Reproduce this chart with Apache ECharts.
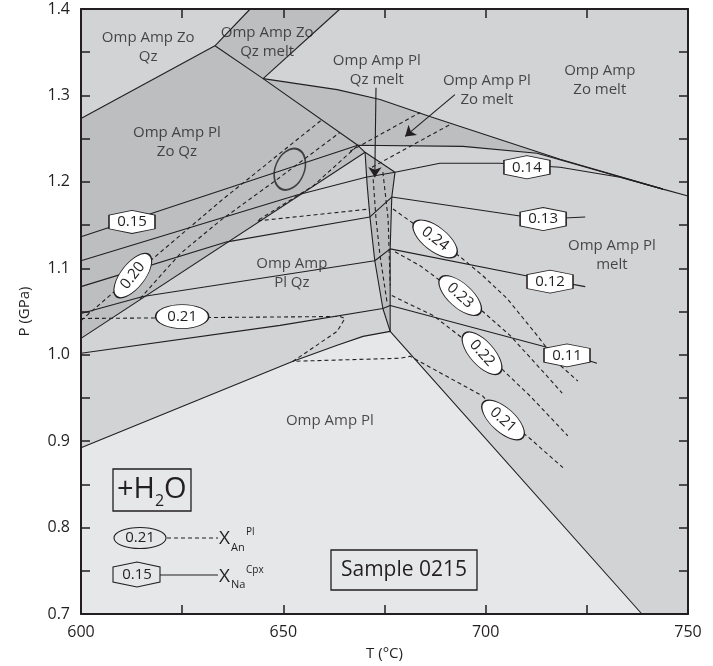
<!DOCTYPE html>
<html><head><meta charset="utf-8">
<script src="https://cdn.jsdelivr.net/npm/echarts@6/dist/echarts.min.js"></script>
<style>html,body{margin:0;padding:0;background:#fff}#c{width:713px;height:666px}</style>
</head><body><div id="c"></div>
<script>
// ---------- DATA (T in °C, P in GPa) ----------
// Field polygons
const fieldZoQzMelt = [[633.1,1.3574],[641.8,1.4],[664.0,1.4],[645.0,1.3194]];
const fieldPlZoQz = [[600,1.2734],[633.1,1.3574],[645.0,1.3194],[668.4,1.2423],[670.2,1.2342],[600,1.0189]];
const fieldPlZoMelt = [[645.0,1.3194],[663.3,1.3067],[673.9,1.2952],[686.2,1.2757],[718.4,1.2262],[743.8,1.1916],[712.7,1.2331],[694.4,1.2411],[668.4,1.2423]];
const fieldPlQzMelt = [[670.2,1.2342],[677.6,1.2112],[676.8,1.1824],[676.4,1.1225],[676.4,1.0592],[676.4,1.0270],[674.6,1.0535],[672.6,1.1087],[671.4,1.1594],[670.7,1.1974]];
const fieldPl = [[600,0.8923],[652.4,0.9924],[663.3,1.0109],[669.7,1.0212],[676.4,1.0270],[738.6,0.7],[600,0.7]];

// Field boundaries
const bdyZoQz = [[600,1.2734],[633.1,1.3574]];
const bdyMeltL = [[633.1,1.3574],[641.8,1.4]];
const bdyMeltR = [[645.0,1.3194],[664.0,1.4]];
const bdyZoOut = [[633.1,1.3574],[645.0,1.3194],[668.4,1.2423],[670.2,1.2342],[677.6,1.2112]];
const bdyMeltTop = [[645.0,1.3194],[663.3,1.3067],[673.9,1.2952],[686.2,1.2757],[718.4,1.2262],[743.8,1.1916],[750,1.1836]];
const bdyDiag = [[600,1.0189],[670.2,1.2342]];
const bdyBandL = [[670.2,1.2342],[670.7,1.1974],[671.4,1.1594],[672.6,1.1087],[674.6,1.0535],[676.4,1.0270]];
const bdyBandR = [[677.6,1.2112],[676.8,1.1824],[676.4,1.1225],[676.4,1.0592],[676.4,1.0270]];
const bdyPlOut = [[600,0.8923],[652.4,0.9924],[663.3,1.0109],[669.7,1.0212],[676.4,1.0270],[738.6,0.7]];

// X_Na (Cpx) isopleths - solid
const xna015 = [[600,1.1364],[668.4,1.2423],[694.4,1.2411],[712.7,1.2331],[743.8,1.1916]];
const xna014 = [[600,1.1087],[653.4,1.1847],[670.4,1.2054],[677.6,1.2112],[688.7,1.2215],[703.5,1.2215],[718.4,1.2169],[733.2,1.2054],[743.8,1.1916]];
const xna013 = [[600,1.0788],[636.1,1.1306],[671.4,1.1594],[676.8,1.1824],[708.5,1.1605],[714.2,1.1570],[724.6,1.1594]];
const xna012 = [[600,1.0477],[615.3,1.0673],[672.6,1.1087],[676.4,1.1225],[711.2,1.0903],[724.6,1.0788]];
const xna011 = [[600,1.0017],[649.2,1.0339],[674.6,1.0535],[676.4,1.0569],[714.2,1.0097],[727.5,0.9901]];

// X_An (Pl) isopleths - dashed
const xan021 = [[600,1.0419],[664.0,1.0442],[665.2,1.0419],[663.3,1.0270],[652.4,0.9924],[678.8,0.9959],[681.3,0.9982],[699.3,0.9521],[704.3,0.9245],[710.2,0.9061],[719.1,0.8693]];
const xan020 = [[600,1.0396],[612.8,1.0915],[635.1,1.1801],[659.3,1.2710]];
const xanDarkB = [[614.6,1.0650],[624.5,1.1168],[634.3,1.1548],[649.2,1.2054],[664.0,1.2572]];
const xanUpper = [[668.2,1.2411],[657.3,1.1951],[643.5,1.1548],[671.4,1.1686]];
const xanMeltA = [[666.5,1.2354],[683.8,1.2803]];
const xanMeltB = [[671.9,1.2169],[691.7,1.2676]];
const xanBandA = [[672.2,1.2031],[672.9,1.1571],[673.9,1.1145],[675.6,1.0615]];
const xanBandB = [[674.6,1.2112],[675.9,1.1571],[676.4,1.0800]];
const xan024 = [[677.1,1.1686],[687.5,1.1340],[693.7,1.1133],[699.3,1.0914],[705.3,1.0650],[712.7,1.0224],[718.4,0.9878],[722.8,0.9694]];
const xan023 = [[677.6,1.1191],[683.8,1.1030],[693.7,1.0684],[699.3,1.0500],[706.0,1.0224],[713.4,0.9844],[718.9,0.9556]];
const xan022 = [[676.8,1.0684],[687.0,1.0454],[699.1,1.0017],[704.3,0.9821],[711.0,0.9521],[720.3,0.9061]];

// Isopleth labels [text, T, P]
const xnaLabels = [['0.15',612.6,1.1536],['0.14',710.2,1.2169],['0.13',714.2,1.1570],['0.12',715.9,1.0846],['0.11',720.1,0.9993]];
const xanLabels = [['0.20',612.8,1.0915],['0.21',625.0,1.0442],['0.24',687.5,1.1340],['0.23',693.7,1.0684],['0.22',699.1,1.0017],['0.21',704.3,0.9245]];

// Field names and their positions
const fieldNames = ['Omp Amp Zo\nQz','Omp Amp Zo\nQz melt','Omp Amp Pl\nQz melt','Omp Amp Pl\nZo melt','Omp Amp\nZo melt','Omp Amp Pl\nZo Qz','Omp Amp\nPl Qz','Omp Amp Pl\nmelt','Omp Amp Pl'];
const fieldT = [616.6,646.0,673.1,700.3,728.2,623.7,652.1,731.2,661.5];
const fieldP = [1.3563,1.3620,1.3286,1.3056,1.3171,1.2457,1.0937,1.1156,0.9234];

// Sample estimate ellipse centre
const sampleEllipse = [[651.6,1.2146]];

// Arrows [from, to]
const arrows = [[[672.9,1.3090],[672.6,1.2054]],[[692.4,1.3010],[680.1,1.2526]]];

// Axis ticks
const xMin = 600, xMax = 750, xStep = 25;
const yMin = 0.7, yMax = 1.4, yStep = 0.05;

// ---------- STYLE ----------
const INK = '#231f20';
const FONT = 'Open Sans';
const C_LIGHT = '#e6e7e8', C_MED = '#d1d3d4', C_DARK = '#bcbec0';
const ELLIPSE = 'path://M0,-1C0.5523,-1 1,-0.5523 1,0C1,0.5523 0.5523,1 0,1C-0.5523,1 -1,0.5523 -1,0C-1,-0.5523 -0.5523,-1 0,-1Z';
const HEX = 'path://M0,5L24,0L48,5L48,20L24,25L0,20Z';
const xanAngles = [52, 0, -38, -42, -48, -42];

function poly(verts, fill) {
  return {type:'custom', coordinateSystem:'cartesian2d', silent:true, animation:false, z:1, clip:true,
    data:[verts[0]],
    renderItem:function(params, api){
      return {type:'polygon', shape:{points: verts.map(function(v){return api.coord(v);})}, style:{fill:fill}};
    }};
}
function line(verts, dashed, w) {
  return {type:'line', data:verts, symbol:'none', silent:true, animation:false, z:3,
    lineStyle:{color:INK, width:w||1.1, type: dashed ? [4,3] : 'solid'}};
}

const series = [
  poly(fieldPl, C_LIGHT),
  poly(fieldPlZoQz, C_DARK),
  poly(fieldZoQzMelt, C_DARK),
  poly(fieldPlZoMelt, C_DARK),
  poly(fieldPlQzMelt, C_DARK),
];
[bdyZoQz,bdyMeltL,bdyMeltR,bdyZoOut,bdyMeltTop,bdyDiag,bdyBandL,bdyBandR,bdyPlOut,
 xna015,xna014,xna013,xna012,xna011].forEach(function(v){ series.push(line(v,false)); });
[xan021,xan020,xanDarkB,xanUpper,xanMeltA,xanMeltB,xanBandA,xanBandB,xan024,xan023,xan022]
  .forEach(function(v){ series.push(line(v,true)); });

// arrows
series.push({type:'line', data:[], silent:true, animation:false, z:4,
  markLine:{silent:true, animation:false, symbol:['none','arrow'], symbolSize:10,
    lineStyle:{color:INK, width:1.1, type:'solid'}, label:{show:false}, emphasis:{disabled:true},
    data: arrows.map(function(a){ return [{coord:a[0]},{coord:a[1]}]; })}});

// sample ellipse
series.push({type:'scatter', data:sampleEllipse, silent:true, animation:false, z:5,
  symbol:ELLIPSE, symbolSize:[29,43], symbolRotate:-22,
  itemStyle:{color:'rgba(0,0,0,0)', borderColor:INK, borderWidth:1.8}});

// X_Na labels
series.push({type:'scatter', silent:true, animation:false, z:6,
  data: xnaLabels.map(function(l){ return {value:[l[1],l[2]], name:l[0]}; }),
  symbol:HEX, symbolSize:[46,23],
  itemStyle:{color:'#fff', borderColor:INK, borderWidth:1.1, opacity:1},
  label:{show:true, position:'inside', formatter:'{b}', color:INK, fontSize:15, fontFamily:FONT}});

// X_An labels
series.push({type:'scatter', silent:true, animation:false, z:6,
  data: xanLabels.map(function(l,i){ return {value:[l[1],l[2]], name:l[0], symbolRotate:xanAngles[i], label:{rotate:xanAngles[i]}}; }),
  symbol:ELLIPSE, symbolSize:[53,24],
  itemStyle:{color:'#fff', borderColor:INK, borderWidth:1.1, opacity:1},
  label:{show:true, position:'inside', formatter:'{b}', color:INK, fontSize:15, fontFamily:FONT}});

// field names
series.push({type:'scatter', silent:true, animation:false, z:6,
  data: fieldNames.map(function(n,i){ return {value:[fieldT[i],fieldP[i]], name:n}; }),
  symbolSize:1, itemStyle:{color:'rgba(0,0,0,0)'},
  label:{show:true, position:'inside', formatter:'{b}', color:INK, fontSize:15, lineHeight:19, fontFamily:FONT, align:'center'}});

const axisCommon = {
  axisLine:{show:true, onZero:false, lineStyle:{color:INK, width:2}},
  axisTick:{show:true, inside:true, length:9, lineStyle:{color:INK, width:1.5}},
  splitLine:{show:false}, z:10
};

const option = {
  animation:false,
  backgroundColor:'#ffffff',
  grid:{left:81, top:9, right:25, bottom:49, show:true, backgroundColor:C_MED, borderWidth:0},
  xAxis:[
    Object.assign({type:'value', min:xMin, max:xMax, interval:xStep, position:'bottom',
      name:'T (°C)', nameLocation:'middle', nameGap:32,
      nameTextStyle:{color:INK, fontSize:15, fontFamily:FONT},
      axisLabel:{color:INK, fontSize:16, fontFamily:FONT, margin:10,
        formatter:function(v){ return (Math.round(v) % 50 === 0) ? String(Math.round(v)) : ''; }}}, axisCommon),
    Object.assign({type:'value', min:xMin, max:xMax, interval:xStep, position:'top', axisLabel:{show:false}}, axisCommon)
  ],
  yAxis:[
    Object.assign({type:'value', min:yMin, max:yMax, interval:yStep, position:'left',
      name:'P (GPa)', nameLocation:'middle', nameGap:49,
      nameTextStyle:{color:INK, fontSize:15, fontFamily:FONT},
      axisLabel:{color:INK, fontSize:16, fontFamily:FONT, margin:11,
        formatter:function(v){ const t = Math.round(v*100); return (t % 10 === 0) ? (t/100).toFixed(1) : ''; }}}, axisCommon),
    Object.assign({type:'value', min:yMin, max:yMax, interval:yStep, position:'right', axisLabel:{show:false}}, axisCommon)
  ],
  series: series,
  graphic:[
    {type:'rect', z:100, shape:{x:113, y:469, width:78, height:42}, style:{fill:'none', stroke:INK, lineWidth:1.3}},
    {type:'text', z:100, x:117, y:490, style:{text:'+H', fontSize:29, fontFamily:FONT, fill:INK, align:'left', verticalAlign:'middle'}},
    {type:'text', z:100, x:155, y:501, style:{text:'2', fontSize:16, fontFamily:FONT, fill:INK, align:'left', verticalAlign:'middle'}},
    {type:'text', z:100, x:164, y:490, style:{text:'O', fontSize:29, fontFamily:FONT, fill:INK, align:'left', verticalAlign:'middle'}},

    {type:'ellipse', z:100, shape:{cx:140, cy:538, rx:26, ry:10.5}, style:{fill:'none', stroke:INK, lineWidth:1.1}},
    {type:'text', z:100, x:140, y:538, style:{text:'0.21', fontSize:15, fontFamily:FONT, fill:INK, align:'center', verticalAlign:'middle'}},
    {type:'line', z:100, shape:{x1:167, y1:538, x2:218, y2:538}, style:{stroke:INK, lineWidth:1.1, lineDash:[4,3]}},
    {type:'text', z:100, x:219, y:539, style:{text:'X', fontSize:19, fontFamily:FONT, fill:INK, align:'left', verticalAlign:'middle'}},
    {type:'text', z:100, x:231, y:548, style:{text:'An', fontSize:11, fontFamily:FONT, fill:INK, align:'left', verticalAlign:'middle'}},
    {type:'text', z:100, x:246, y:532, style:{text:'Pl', fontSize:10, fontFamily:FONT, fill:INK, align:'left', verticalAlign:'middle'}},

    {type:'polygon', z:100, shape:{points:[[113,567],[137,562],[160,567],[160,582],[137,587],[113,582]]}, style:{fill:'none', stroke:INK, lineWidth:1.1}},
    {type:'text', z:100, x:137, y:575, style:{text:'0.15', fontSize:15, fontFamily:FONT, fill:INK, align:'center', verticalAlign:'middle'}},
    {type:'line', z:100, shape:{x1:160, y1:575, x2:218, y2:575}, style:{stroke:INK, lineWidth:1.1}},
    {type:'text', z:100, x:219, y:577, style:{text:'X', fontSize:19, fontFamily:FONT, fill:INK, align:'left', verticalAlign:'middle'}},
    {type:'text', z:100, x:231, y:585, style:{text:'Na', fontSize:11, fontFamily:FONT, fill:INK, align:'left', verticalAlign:'middle'}},
    {type:'text', z:100, x:246, y:570, style:{text:'Cpx', fontSize:10, fontFamily:FONT, fill:INK, align:'left', verticalAlign:'middle'}},

    {type:'rect', z:100, shape:{x:331, y:550, width:146, height:40}, style:{fill:'none', stroke:INK, lineWidth:1.3}},
    {type:'text', z:100, x:404, y:570, style:{text:'Sample 0215', fontSize:21, fontFamily:FONT, fill:INK, align:'center', verticalAlign:'middle'}}
  ]
};

const chart = echarts.init(document.getElementById('c'), null, {renderer:'canvas'});
chart.setOption(option);
</script></body></html>
